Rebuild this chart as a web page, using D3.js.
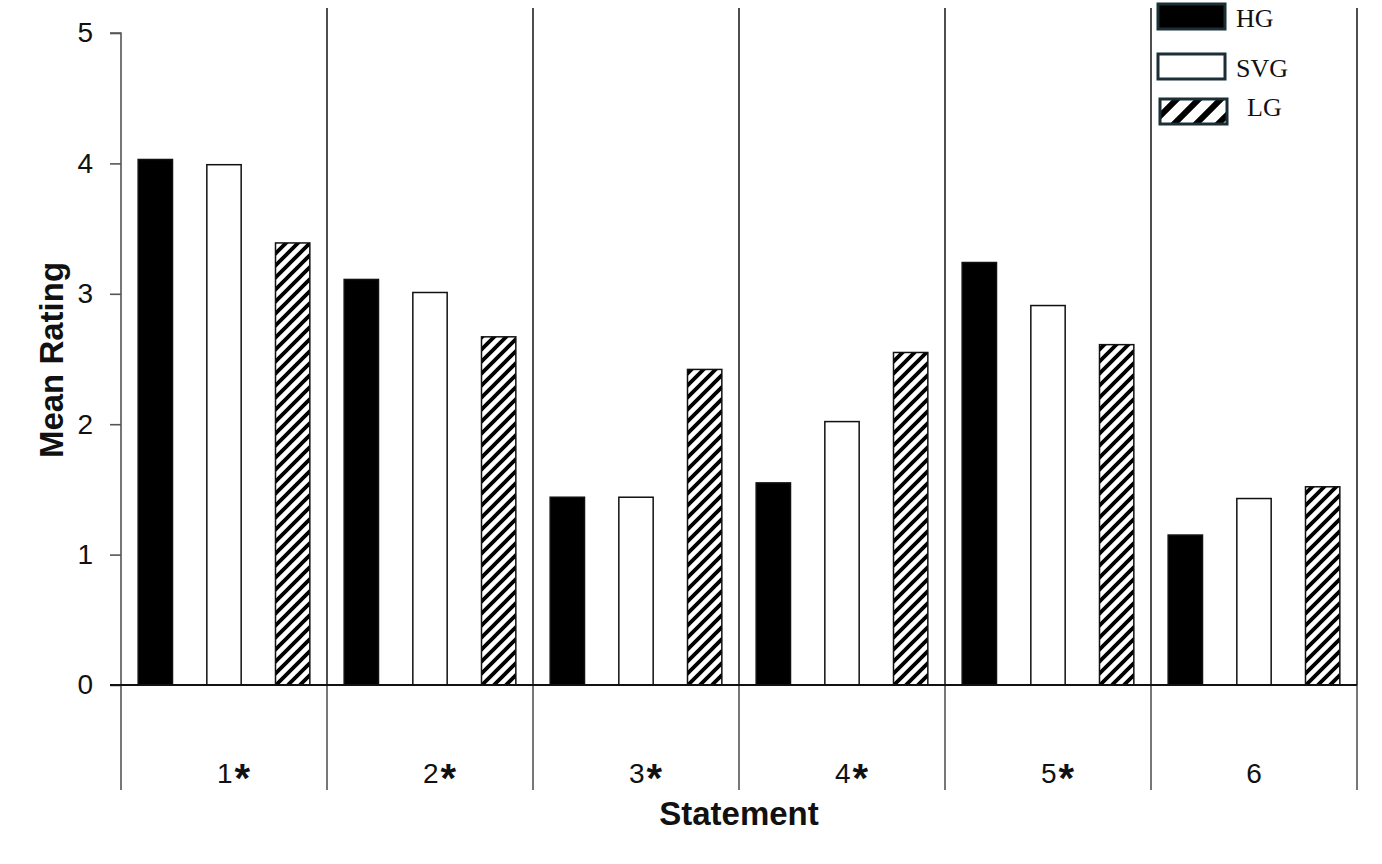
<!DOCTYPE html>
<html lang="en">
<head>
  <meta charset="utf-8">
  <title>Mean Rating by Statement</title>
  <script src="https://d3js.org/d3.v7.min.js"></script>
  <style>
    body {
      margin: 0;
      padding: 0;
      background: #fff;
    }
    svg {
      display: block;
    }
  </style>
</head>
<body>
  <div id="chart"></div>
  <script>
    // Data
    const statements = ["1*", "2*", "3*", "4*", "5*", "6"];
    const groups = ["HG", "SVG", "LG"];
    const hgValues  = [4.03, 3.11, 1.44, 1.55, 3.24, 1.15];
    const svgValues = [3.99, 3.01, 1.44, 2.02, 2.91, 1.43];
    const lgValues  = [3.39, 2.67, 2.42, 2.55, 2.61, 1.52];
    const yTicks = [0, 1, 2, 3, 4, 5];

    const width = 1382;
    const height = 864;

    // Plot frame
    const plotLeft = 121, plotRight = 1357;
    const plotTop = 33, plotBottom = 685;
    const dividerTop = 8, dividerBottom = 790;
    const sans = "'Liberation Sans', Arial, sans-serif";

    const rows = statements.map((s, i) => ({
      statement: s,
      HG: hgValues[i],
      SVG: svgValues[i],
      LG: lgValues[i]
    }));

    const svg = d3.select("#chart")
      .append("svg")
      .attr("width", width)
      .attr("height", height);

    // Hatch patterns for LG (bars and legend swatch)
    const defs = svg.append("defs");
    function hatch(id, size, sw) {
      const p = defs.append("pattern")
        .attr("id", id)
        .attr("patternUnits", "userSpaceOnUse")
        .attr("width", size)
        .attr("height", size);
      p.append("rect")
        .attr("width", size)
        .attr("height", size)
        .attr("fill", "#fff");
      p.append("path")
        .attr("d", `M0,${size} L${size},0 M${-size / 4},${size / 4} L${size / 4},${-size / 4} M${size * 0.75},${size * 1.25} L${size * 1.25},${size * 0.75}`)
        .attr("stroke", "#000")
        .attr("stroke-width", sw);
    }
    hatch("hatch", 12, 3.8);
    hatch("hatch-big", 22, 6);

    // Scales
    const x0 = d3.scaleBand()
      .domain(statements)
      .range([plotLeft, plotRight])
      .padding(0);

    const x1 = d3.scaleBand()
      .domain(groups)
      .range([0, x0.bandwidth()])
      .paddingInner(0.5)
      .paddingOuter(0.25);

    const y = d3.scaleLinear()
      .domain([0, 5])
      .range([plotBottom, plotTop]);

    const fills = { HG: "#000", SVG: "#fff", LG: "url(#hatch)" };

    // Group dividers (above and below the baseline)
    const boundaries = statements.map(s => x0(s)).concat([plotRight]);
    svg.append("g")
      .selectAll("line")
      .data(boundaries.slice(1))
      .join("line")
      .attr("x1", d => d)
      .attr("x2", d => d)
      .attr("y1", dividerTop)
      .attr("y2", plotBottom)
      .attr("stroke", "#222")
      .attr("stroke-width", 1.6);

    svg.append("g")
      .selectAll("line")
      .data(boundaries)
      .join("line")
      .attr("x1", d => d)
      .attr("x2", d => d)
      .attr("y1", plotBottom)
      .attr("y2", dividerBottom)
      .attr("stroke", "#555")
      .attr("stroke-width", 1.6);

    // Bars
    svg.append("g")
      .selectAll("g")
      .data(rows)
      .join("g")
      .attr("transform", d => `translate(${x0(d.statement)},0)`)
      .selectAll("rect")
      .data(d => groups.map(k => ({ key: k, value: d[k] })))
      .join("rect")
      .attr("x", d => x1(d.key))
      .attr("y", d => y(d.value))
      .attr("width", x1.bandwidth())
      .attr("height", d => y(0) - y(d.value))
      .attr("fill", d => fills[d.key])
      .attr("stroke", "#111")
      .attr("stroke-width", 1.5);

    // Y axis
    const yAxis = svg.append("g")
      .attr("transform", `translate(${plotLeft},0)`)
      .call(d3.axisLeft(y).tickValues(yTicks).tickFormat(d3.format("d")).tickSize(11).tickPadding(17));
    yAxis.select(".domain")
      .attr("d", `M-11,${plotTop}H0V${plotBottom}`)
      .attr("stroke", "#555")
      .attr("stroke-width", 1.6);
    yAxis.selectAll(".tick line")
      .attr("stroke", "#555")
      .attr("stroke-width", 1.6);
    yAxis.selectAll(".tick text")
      .attr("font-family", sans)
      .attr("font-size", 28)
      .attr("fill", "#111");

    // Baseline
    svg.append("line")
      .attr("x1", plotLeft - 11)
      .attr("x2", plotRight)
      .attr("y1", y(0))
      .attr("y2", y(0))
      .attr("stroke", "#111")
      .attr("stroke-width", 1.8);

    // Category labels: digit plus a bold, centred asterisk
    const catLabels = svg.append("g")
      .selectAll("text")
      .data(statements)
      .join("text")
      .attr("x", d => x0(d) + x0.bandwidth() / 2 + (d.endsWith("*") ? -7 : 0))
      .attr("y", 783)
      .attr("text-anchor", d => d.endsWith("*") ? "start" : "middle")
      .style("font-family", sans)
      .style("font-size", "28px")
      .style("fill", "#111");
    catLabels.append("tspan")
      .text(d => d.replace("*", ""));
    catLabels.filter(d => d.endsWith("*"))
      .append("tspan")
      .attr("dx", 2)
      .attr("dy", 9)
      .style("font-size", "40px")
      .style("font-weight", "bold")
      .text("*");

    // Axis titles
    svg.append("text")
      .attr("x", 739)
      .attr("y", 825)
      .attr("text-anchor", "middle")
      .style("font-family", sans)
      .style("font-size", "33px")
      .style("font-weight", "bold")
      .style("fill", "#111")
      .text("Statement");

    svg.append("text")
      .attr("transform", "translate(63,360) rotate(-90)")
      .attr("text-anchor", "middle")
      .style("font-family", sans)
      .style("font-size", "33px")
      .style("font-weight", "bold")
      .style("fill", "#111")
      .text("Mean Rating");

    // Legend
    const legendItems = [
      { key: "HG",  rx: 1158, ry: 4,  tx: 1236, ty: 27,  fill: "#000" },
      { key: "SVG", rx: 1158, ry: 54, tx: 1236, ty: 77,  fill: "#fff" },
      { key: "LG",  rx: 1160, ry: 99, tx: 1247, ty: 116, fill: "url(#hatch-big)" }
    ];
    const legend = svg.append("g");
    legend.selectAll("rect")
      .data(legendItems)
      .join("rect")
      .attr("x", d => d.rx)
      .attr("y", d => d.ry)
      .attr("width", 67)
      .attr("height", 25)
      .attr("fill", d => d.fill)
      .attr("stroke", "#1b2f36")
      .attr("stroke-width", 3);
    legend.selectAll("text")
      .data(legendItems)
      .join("text")
      .attr("x", d => d.tx)
      .attr("y", d => d.ty)
      .style("font-family", "'Liberation Serif', 'Times New Roman', serif")
      .style("font-size", "26px")
      .style("fill", "#111")
      .text(d => d.key);
  </script>
</body>
</html>
